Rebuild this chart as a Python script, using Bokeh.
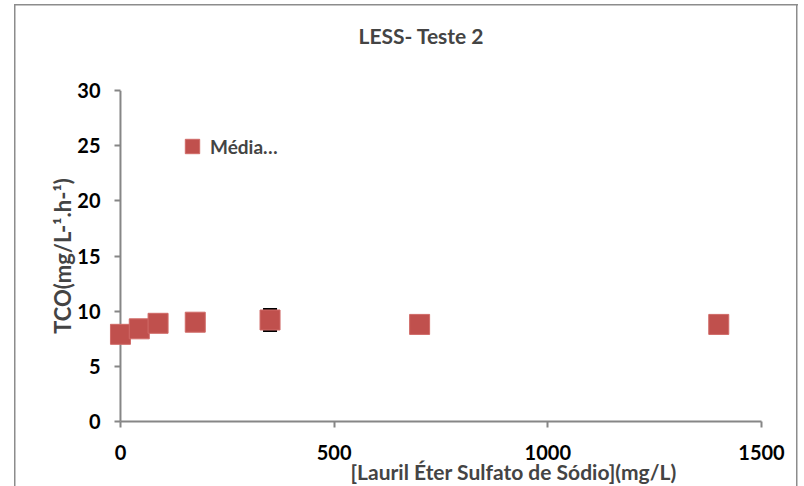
from bokeh.plotting import figure
from bokeh.models import (ColumnDataSource, Whisker, FixedTicker, Range1d, Title,
                          Legend, LegendItem, Span)
from bokeh.embed import file_html
from bokeh.resources import INLINE

conc = [0, 44, 88, 175, 350, 700, 1400]
tco = [7.9, 8.4, 8.9, 9.0, 9.2, 8.8, 8.8]
err = [0.2, 0.2, 0.2, 0.2, 1.0, 0.2, 0.2]
x_ticks = [0, 500, 1000, 1500]
y_ticks = [0, 5, 10, 15, 20, 25, 30]

FONT = "Lato"
GRAY = "#868686"
RED = "#C0504D"
BORDER = "#8C8C8C"

src = ColumnDataSource(dict(x=conc, y=tco,
                            lo=[a - b for a, b in zip(tco, err)],
                            hi=[a + b for a, b in zip(tco, err)]))

p = figure(frame_width=653, frame_height=331, output_backend="svg", toolbar_location=None,
           x_range=Range1d(-28, 1500), y_range=Range1d(0, 30),
           min_border_left=108, min_border_right=37, min_border_top=90, min_border_bottom=65)
p.border_fill_color = None
p.background_fill_color = None
p.styles = {
    "background-image": ", ".join([f"linear-gradient({BORDER},{BORDER})"] * 3),
    "background-position": "14px 4px, 14px 4px, 796px 4px",
    "background-size": "1.5px 100%, 784px 1.5px, 1.5px 100%",
    "background-repeat": "no-repeat",
}
p.outline_line_color = None
p.grid.visible = False
p.title.visible = False

# spacer first, then the real title
spacer = Title(text=" ", standoff=30, text_font_size="10px")
p.add_layout(spacer, "above")
ttl = Title(text="LESS- Teste 2", align="left", offset=250, standoff=0,
            text_font=FONT, text_font_size="21px", text_font_style="bold")
p.add_layout(ttl, "above")

for ax in (p.xaxis[0], p.yaxis[0]):
    ax.axis_line_color = GRAY
    ax.axis_line_width = 2
    ax.major_tick_line_color = GRAY
    ax.major_tick_line_width = 2
    ax.major_tick_out = 6
    ax.major_tick_in = 0
    ax.minor_tick_line_color = None
    ax.major_label_text_font = FONT
    ax.major_label_text_font_style = "bold"
    ax.major_label_text_font_size = "20px"
    ax.major_label_text_color = "black"
    ax.axis_label_text_font = FONT
    ax.axis_label_text_font_style = "bold"
    ax.axis_label_text_font_size = "22px"

p.xaxis.ticker = FixedTicker(ticks=x_ticks)
p.xaxis.bounds = (0, 1500)
p.yaxis.ticker = FixedTicker(ticks=y_ticks)
p.xaxis.major_label_standoff = 17
p.yaxis.axis_line_color = None
p.yaxis.major_tick_in = 12
p.yaxis.major_tick_out = -6
p.yaxis.major_label_standoff = 8
p.yaxis.axis_label = "TCO(mg/L-¹.h-¹)"
p.yaxis.axis_label_standoff = -2

yline = Span(location=0, dimension="height", line_color=GRAY, line_width=2, level="underlay")
p.add_layout(yline)

xl = Title(text="[Lauril Éter Sulfato de Sódio](mg/L)", align="left", offset=242,
           text_font=FONT, text_font_size="21px", text_font_style="bold", standoff=-11)
p.add_layout(xl, "below")

wh = Whisker(source=src, base="x", lower="lo", upper="hi", line_color="black", line_width=2)
wh.upper_head.line_width = 2
wh.lower_head.line_width = 2
wh.upper_head.size = 14
wh.lower_head.size = 14
p.add_layout(wh)

r = p.scatter("x", "y", source=src, marker="square", size=20, fill_color=RED,
              line_color="#D06A67", line_width=1)

leg = Legend(items=[LegendItem(label="Média…", renderers=[r])], location=(66, 257),
             background_fill_alpha=0, border_line_color=None,
             label_text_font=FONT, label_text_font_style="bold", label_text_font_size="19px",
             glyph_width=36, glyph_height=36, padding=0, margin=0, label_standoff=-5)
p.add_layout(leg)

open("out.html", "w").write(file_html(p, INLINE))
